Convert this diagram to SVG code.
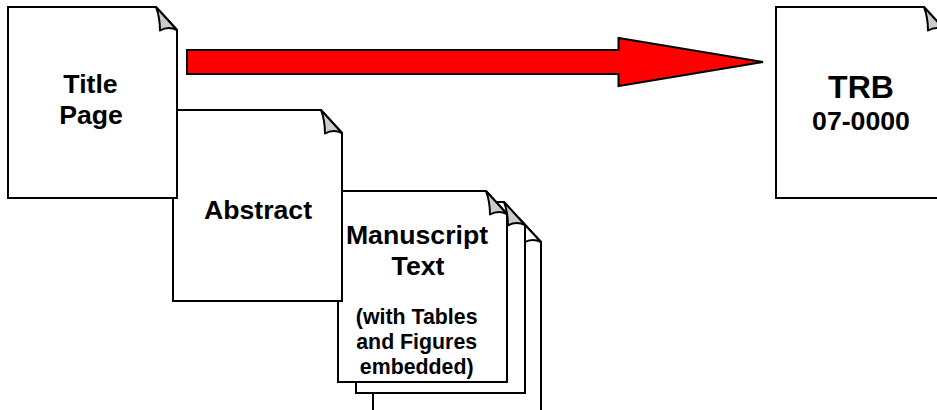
<svg xmlns="http://www.w3.org/2000/svg" width="937" height="410" viewBox="0 0 937 410">
<style>
text{font-family:"Liberation Sans",Arial,sans-serif;font-weight:bold;fill:#000;text-anchor:middle}
.p{fill:#fff;stroke:#000;stroke-width:2;stroke-linejoin:miter}
.f{fill:#ccc;stroke:#000;stroke-width:2;stroke-linejoin:round}
.l{font-size:26.670px}.s{font-size:21.330px}
</style>
<defs>
<path id="page" class="p" d="M0 0H148L169 23V191H0Z"/>
<path id="fold" class="f" d="M148 0L169 23C163 20 158 20 152 23.500C152 15 151 8 148 0Z"/>
</defs>
<g id="connectors">
<path d="M187 50H618.500V38L763 62L618.500 86V74H187Z" fill="#f00" stroke="#000" stroke-width="2"/>
</g>
<g id="manuscript-back">
<path class="p" d="M373 219H519.500L541 242V412H373Z"/>
<path class="f" style="fill:#fff" d="M519.500 219L541 242C535 239 530 239 524 242.500C524 234 523 227 519.500 219Z"/>
</g>
<g id="manuscript-middle" transform="translate(356 202)"><use href="#page"/><use href="#fold"/></g>
<g id="manuscript-front" transform="translate(338 191)"><use href="#page"/><use href="#fold"/>
<text class="l" x="79" y="53">Manuscript</text><text class="l" x="80" y="84">Text</text>
<text class="s" x="78.700" y="133">(with Tables</text><text class="s" x="78.700" y="158">and Figures</text><text class="s" x="78.700" y="183">embedded)</text></g>
<g id="trb" transform="translate(776 7)"><use href="#page"/><use href="#fold"/>
<text x="85" y="91" style="font-size:32px">TRB</text><text class="l" x="85" y="123">07-0000</text></g>
<g id="abstract" transform="translate(173 110)"><use href="#page"/><use href="#fold"/>
<text class="l" x="85" y="108.500">Abstract</text></g>
<g id="title-page" transform="translate(8 7)"><use href="#page"/><use href="#fold"/>
<text class="l" x="82.500" y="86">Title</text><text class="l" x="83" y="117">Page</text></g>
</svg>
